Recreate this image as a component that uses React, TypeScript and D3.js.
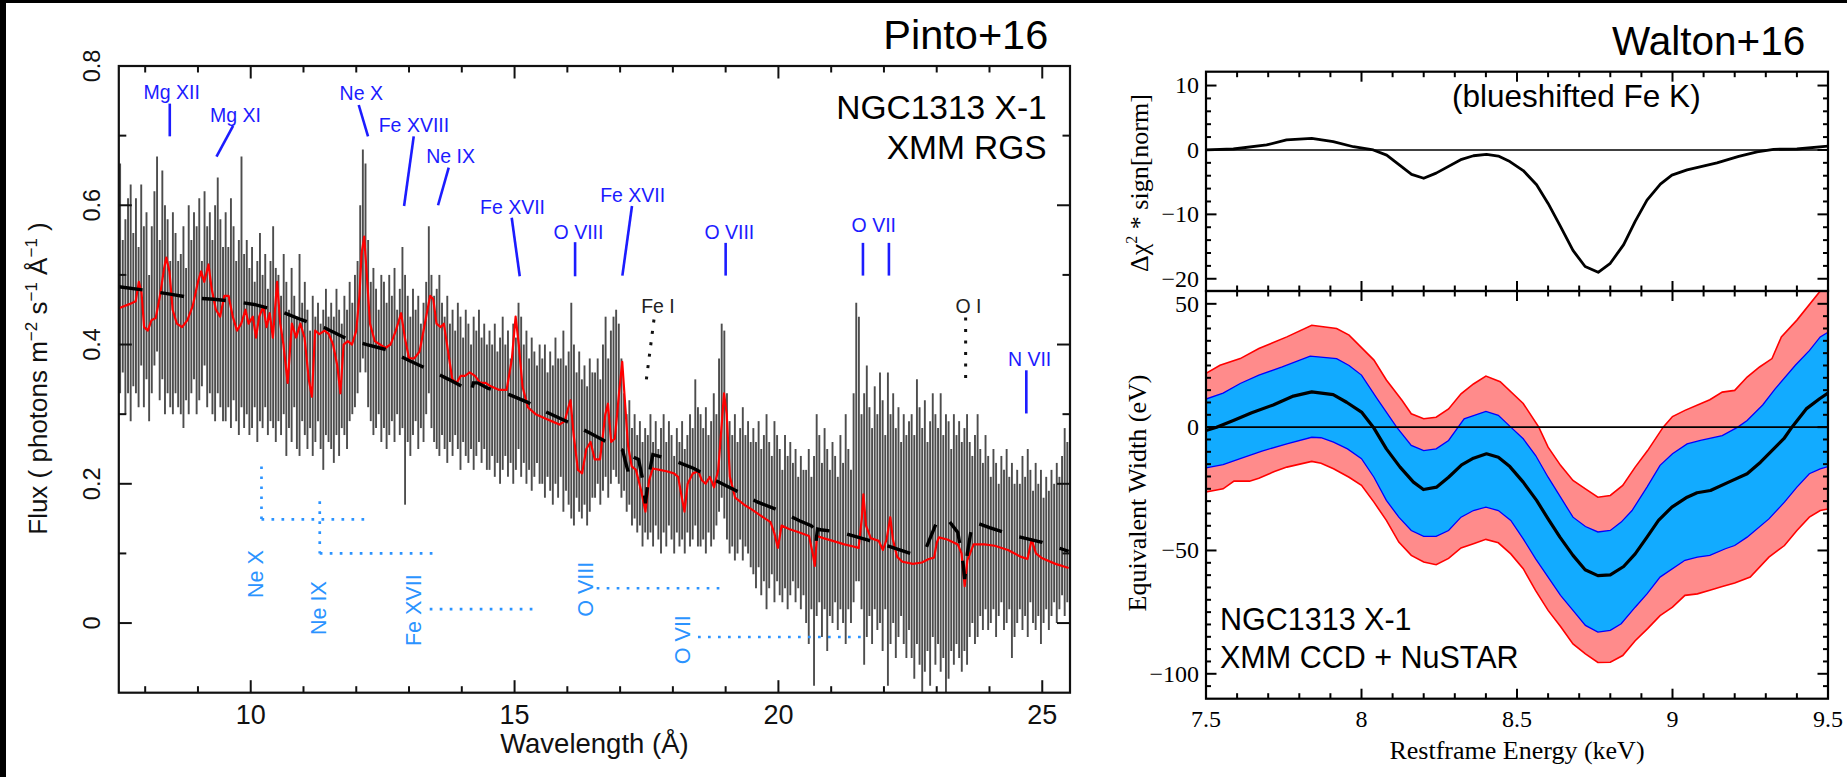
import React from "react";
import * as d3 from "d3";

const SANS = "'Liberation Sans', Arial, Helvetica, sans-serif";
const SERIF = "'Liberation Serif', 'Times New Roman', Times, serif";

// ---------------- Left panel (Pinto+16, XMM RGS) ----------------
const binStart = 7.5;
const binWidth = 0.05;
// upper / lower ends of each spectral bin's error bar (photons m^-2 s^-1 A^-1)
const fluxHi = [
  .66,.55,.58,.61,.63,.56,.61,.54,.63,.57,.59,.50,.57,.62,.67,.55,.65,.60,.58,.52,
  .59,.56,.52,.53,.57,.51,.60,.55,.59,.57,.61,.52,.62,.57,.59,.55,.60,.64,.58,.54,
  .59,.54,.61,.57,.52,.55,.67,.53,.55,.51,.54,.49,.52,.56,.50,.53,.48,.52,.57,.51,
  .50,.47,.53,.49,.45,.51,.47,.44,.53,.46,.49,.45,.42,.47,.44,.46,.43,.45,.48,.44,
  .46,.44,.48,.45,.43,.47,.45,.49,.46,.50,.52,.60,.68,.66,.55,.49,.51,.48,.45,.50,
  .49,.46,.50,.47,.51,.45,.48,.54,.50,.47,.44,.48,.45,.47,.43,.46,.49,.57,.50,.47,
  .48,.50,.46,.44,.47,.43,.45,.42,.46,.44,.41,.45,.43,.40,.44,.42,.45,.41,.43,.40,
  .42,.40,.43,.39,.41,.44,.40,.42,.38,.43,.41,.46,.44,.40,.42,.38,.41,.39,.37,.40,
  .38,.40,.36,.39,.37,.41,.38,.38,.42,.37,.39,.46,.40,.36,.39,.35,.37,.34,.38,.36,
  .36,.38,.35,.40,.44,.38,.42,.44,.45,.43,.38,.33,.30,.32,.28,.30,.27,.29,.26,.28,
  .27,.30,.26,.29,.25,.28,.30,.26,.29,.27,.24,.28,.26,.29,.25,.27,.30,.28,.35,.31,
  .30,.28,.31,.27,.29,.33,.30,.38,.43,.42,.33,.29,.27,.30,.26,.28,.31,.27,.29,.26,
  .28,.26,.29,.25,.27,.30,.26,.24,.29,.27,.25,.22,.27,.24,.26,.23,.25,.21,.24,.22,
  .22,.25,.21,.24,.30,.27,.23,.28,.25,.22,.26,.24,.21,.27,.23,.30,.25,.22,.33,.46,
  .44,.30,.33,.37,.31,.28,.34,.30,.36,.32,.27,.36,.30,.33,.28,.31,.26,.30,.27,.29,
  .30,.27,.35,.31,.28,.32,.26,.29,.33,.30,.28,.33,.27,.30,.29,.25,.30,.27,.29,.26,
  .28,.30,.26,.24,.27,.30,.25,.23,.27,.24,.21,.25,.23,.20,.24,.22,.25,.21,.23,.20,
  .22,.20,.24,.21,.25,.22,.19,.23,.20,.22,.18,.21,.19,.22,.20,.23,.21,.24,.28,.26,
];
const fluxLo = [
  .33,.36,.30,.33,.29,.34,.33,.31,.37,.31,.35,.29,.33,.37,.39,.32,.35,.30,.33,.31,
  .30,.33,.31,.30,.28,.32,.30,.33,.35,.30,.32,.34,.37,.31,.33,.30,.29,.33,.31,.29,
  .29,.31,.28,.32,.29,.27,.31,.28,.30,.27,.28,.31,.26,.29,.28,.31,.27,.29,.28,.26,
  .29,.27,.30,.24,.28,.26,.31,.25,.24,.29,.27,.25,.28,.24,.26,.29,.25,.22,.27,.26,
  .25,.23,.27,.24,.28,.27,.25,.29,.30,.31,.33,.36,.38,.36,.31,.29,.27,.28,.30,.26,
  .28,.25,.27,.29,.26,.30,.27,.28,.17,.26,.24,.27,.29,.25,.28,.26,.30,.33,.28,.26,
  .25,.24,.27,.25,.23,.26,.24,.27,.25,.22,.26,.24,.23,.25,.22,.24,.26,.23,.25,.22,
  .22,.24,.21,.23,.20,.22,.24,.21,.23,.20,.22,.25,.21,.23,.20,.22,.19,.21,.23,.20,
  .20,.18,.21,.19,.17,.20,.18,.21,.16,.19,.17,.15,.14,.18,.16,.15,.17,.14,.16,.18,
  .18,.20,.17,.19,.21,.18,.20,.22,.21,.20,.18,.19,.16,.17,.14,.15,.13,.14,.11,.13,
  .12,.13,.11,.14,.12,.10,.13,.11,.14,.12,.10,.13,.11,.12,.10,.13,.11,.12,.14,.11,
  .11,.12,.10,.13,.11,.12,.14,.16,.18,.15,.12,.10,.11,.09,.10,.12,.09,.11,.10,.08,
  .07,.05,.08,.04,.06,.02,.05,.07,.03,.06,.04,.03,.05,.02,.04,.06,.03,.05,.02,.04,
  .00,-.03,.02,-.09,.01,.03,-.02,.02,-.04,.01,.00,.03,-.01,.02,.00,-.03,.02,.00,.03,.06,
  .06,.02,-.06,-.02,.01,-.03,.02,-.01,.00,-.04,.02,-.09,-.03,.00,-.05,-.02,.01,-.03,-.05,-.01,
  -.05,-.08,-.03,-.06,-.10,-.07,-.04,-.09,-.02,-.06,-.03,-.07,-.05,-.10,-.08,-.04,-.06,-.03,-.05,-.07,
  -.04,-.06,-.02,.00,-.03,-.02,.01,-.01,.02,-.01,.00,.02,-.02,.01,.03,-.01,.00,.02,-.05,-.02,
  .00,.02,-.01,.01,-.02,.03,.00,-.01,.01,-.03,.00,.02,-.01,.01,.03,.00,.02,.04,.01,.03,
];
// best-fit model (red)
const rgsModel: [number, number][] = [
  [7.50,.452],[7.70,.458],[7.82,.462],[7.88,.49],[7.93,.475],[7.98,.425],[8.05,.42],[8.12,.435],
  [8.20,.438],[8.28,.47],[8.36,.51],[8.40,.525],[8.46,.505],[8.52,.45],[8.60,.43],[8.70,.425],
  [8.80,.435],[8.90,.455],[9.00,.49],[9.06,.505],[9.12,.49],[9.20,.515],[9.26,.48],[9.34,.45],
  [9.42,.44],[9.50,.47],[9.58,.47],[9.66,.44],[9.74,.42],[9.82,.43],[9.90,.45],[9.96,.43],
  [10.04,.44],[10.10,.41],[10.16,.44],[10.24,.455],[10.30,.425],[10.36,.445],[10.42,.41],[10.50,.49],
  [10.56,.43],[10.62,.40],[10.70,.345],[10.78,.43],[10.86,.41],[10.94,.43],[11.02,.41],[11.10,.35],
  [11.16,.325],[11.22,.42],[11.30,.415],[11.40,.42],[11.48,.415],[11.56,.40],[11.64,.37],[11.70,.33],
  [11.76,.40],[11.84,.405],[11.92,.40],[12.00,.42],[12.06,.47],[12.10,.53],[12.15,.555],[12.20,.50],
  [12.26,.43],[12.35,.405],[12.45,.40],[12.55,.395],[12.65,.40],[12.75,.42],[12.85,.445],[12.92,.41],
  [13.00,.38],[13.10,.38],[13.20,.39],[13.30,.43],[13.40,.47],[13.46,.465],[13.52,.43],[13.60,.425],
  [13.66,.43],[13.74,.39],[13.82,.35],[13.90,.345],[13.98,.355],[14.06,.355],[14.15,.36],[14.25,.355],
  [14.35,.345],[14.45,.345],[14.55,.34],[14.70,.335],[14.85,.335],[14.95,.38],[15.02,.44],[15.08,.40],
  [15.15,.34],[15.25,.31],[15.40,.30],[15.55,.295],[15.70,.29],[15.85,.285],[15.95,.29],[16.02,.31],
  [16.06,.32],[16.12,.27],[16.20,.22],[16.28,.215],[16.36,.25],[16.44,.26],[16.52,.235],[16.62,.235],
  [16.72,.30],[16.77,.315],[16.83,.26],[16.90,.265],[16.98,.33],[17.04,.375],[17.09,.32],[17.15,.255],
  [17.22,.225],[17.30,.22],[17.40,.19],[17.48,.16],[17.55,.205],[17.62,.222],[17.75,.22],[17.88,.218],
  [18.02,.215],[18.10,.21],[18.17,.18],[18.22,.16],[18.28,.20],[18.38,.215],[18.48,.218],[18.55,.205],
  [18.62,.20],[18.70,.21],[18.78,.195],[18.86,.22],[18.92,.28],[18.97,.33],[19.02,.30],[19.08,.21],
  [19.18,.18],[19.35,.17],[19.50,.163],[19.65,.155],[19.85,.145],[19.92,.13],[19.99,.108],[20.06,.14],
  [20.20,.135],[20.40,.13],[20.58,.125],[20.65,.10],[20.69,.082],[20.73,.125],[20.85,.122],[21.03,.118],
  [21.25,.113],[21.42,.11],[21.52,.108],[21.58,.15],[21.61,.185],[21.66,.14],[21.75,.122],[21.90,.118],
  [21.98,.105],[22.05,.12],[22.12,.152],[22.17,.12],[22.25,.095],[22.35,.088],[22.55,.085],[22.72,.087],
  [22.85,.092],[22.95,.094],[23.00,.115],[23.04,.123],[23.20,.12],[23.40,.113],[23.47,.10],[23.53,.053],
  [23.58,.09],[23.70,.113],[23.90,.113],[24.10,.111],[24.35,.105],[24.60,.095],[24.72,.092],[24.80,.12],
  [24.88,.10],[25.00,.093],[25.25,.085],[25.50,.079],
];
// continuum model (black dashed)
const continuumModel: [number, number][] = [
  [7.50,.483],[8.00,.478],[8.50,.472],[8.90,.467],[9.30,.465],[9.70,.462],[10.10,.457],[10.55,.448],
  [10.95,.436],[11.40,.424],[11.80,.409],[12.20,.400],[12.60,.392],[13.00,.377],[13.40,.363],[13.75,.35],
  [14.05,.338],[14.12,.33],[14.18,.332],[14.22,.345],[14.30,.345],[14.50,.337],[14.90,.328],[15.25,.317],
  [15.60,.303],[16.00,.289],[16.40,.274],[16.85,.256],[17.05,.248],[17.10,.232],[17.15,.218],[17.20,.24],
  [17.35,.235],[17.43,.205],[17.48,.172],[17.54,.21],[17.62,.242],[18.00,.234],[18.40,.222],[18.80,.205],
  [19.20,.19],[19.60,.174],[20.00,.162],[20.40,.147],[20.62,.14],[20.68,.135],[20.71,.115],[20.74,.135],
  [20.80,.134],[21.20,.13],[21.70,.119],[22.10,.11],[22.50,.10],[22.80,.108],[23.00,.145],[23.20,.15],
  [23.40,.13],[23.50,.085],[23.53,.063],[23.58,.10],[23.68,.146],[24.00,.137],[24.50,.125],[25.00,.116],
  [25.50,.103],
];
const xMajorL = [10, 15, 20, 25];
const yMajorL = [0, 0.2, 0.4, 0.6, 0.8];
const yLabelsL = ["0", "0.2", "0.4", "0.6", "0.8"];

// line identifications: label, label position (A, flux), marker segments
const idsUpper: { label: string; at: [number, number]; segs: [number, number][][] }[] = [
  { label: "Mg XII", at: [8.504, .752], segs: [[[8.466, .746], [8.466, .699]]] },
  { label: "Mg XI", at: [9.713, .719], segs: [[[9.666, .714], [9.351, .670]]] },
  { label: "Ne X", at: [12.095, .751], segs: [[[12.047, .744], [12.223, .699]]] },
  { label: "Fe XVIII", at: [13.093, .705], segs: [[[13.089, .699], [12.906, .599]]] },
  { label: "Ne IX", at: [13.788, .660], segs: [[[13.752, .654], [13.55, .600]]] },
  { label: "Fe XVII", at: [14.961, .587], segs: [[[14.946, .582], [15.098, .498]]] },
  { label: "O VIII", at: [16.212, .552], segs: [[[16.147, .547], [16.147, .498]]] },
  { label: "Fe XVII", at: [17.239, .604], segs: [[[17.225, .599], [17.043, .499]]] },
  { label: "O VIII", at: [19.07, .551], segs: [[[19.0, .546], [19.0, .499]]] },
  { label: "O VII", at: [21.808, .562], segs: [[[21.602, .546], [21.602, .499]], [[22.094, .546], [22.094, .499]]] },
  { label: "N VII", at: [24.76, .369], segs: [[[24.698, .363], [24.698, .301]]] },
];
const idsNeutral: { label: string; at: [number, number]; segs: [number, number][][] }[] = [
  { label: "Fe I", at: [17.718, .446], segs: [[[17.642, .436], [17.498, .35]]] },
  { label: "O I", at: [23.6, .446], segs: [[[23.548, .439], [23.548, .35]]] },
];
const idsShifted: { label: string; at: [number, number]; segs: [number, number][][] }[] = [
  { label: "Ne X", at: [10.228, .036], segs: [[[10.204, .225], [10.204, .149]], [[10.204, .149], [12.161, .149]]] },
  { label: "Ne IX", at: [11.422, -.017], segs: [[[11.308, .175], [11.308, .10]], [[11.308, .10], [13.487, .10]]] },
  { label: "Fe XVII", at: [13.231, -.033], segs: [[[13.392, .02], [15.4, .02]]] },
  { label: "O VIII", at: [16.48, .009], segs: [[[16.556, .05], [18.919, .05]]] },
  { label: "O VII", at: [18.318, -.059], segs: [[[18.476, -.02], [21.634, -.02]]] },
];

// ---------------- Right panel (Walton+16) ----------------
const chiCurve: [number, number][] = [
  [7.5,0],[7.588,.15],[7.695,.78],[7.759,1.55],[7.84,1.8],[7.909,1.3],[7.974,.5],[8.038,0],
  [8.081,-.8],[8.161,-3.8],[8.2,-4.4],[8.24,-3.6],[8.322,-1.45],[8.36,-.9],[8.402,-.7],[8.44,-.95],
  [8.477,-1.8],[8.52,-3.2],[8.563,-5.4],[8.6,-8.3],[8.638,-11.7],[8.68,-15.6],[8.719,-18.1],[8.761,-19.0],
  [8.8,-17.6],[8.843,-14.7],[8.88,-11.1],[8.918,-7.8],[8.961,-5.3],[8.998,-3.9],[9.047,-3.1],[9.143,-2.0],
  [9.213,-1.0],[9.272,-.3],[9.325,.1],[9.4,.15],[9.5,.6],
];
const ewBest: [number, number][] = [
  [7.5,-1.4],[7.534,0],[7.588,2.7],[7.647,5.8],[7.716,9.0],[7.781,12.6],[7.84,14.3],[7.909,13.2],
  [7.952,10.1],[8.0,6.1],[8.038,0],[8.08,-8.8],[8.124,-16.2],[8.167,-22.3],[8.199,-25.3],[8.242,-24.3],
  [8.28,-20.3],[8.322,-15.3],[8.36,-12.6],[8.402,-10.8],[8.44,-12.2],[8.477,-16],[8.52,-22.3],[8.563,-29.7],
  [8.6,-37.2],[8.638,-44.6],[8.68,-52],[8.719,-57.8],[8.76,-60.2],[8.8,-59.9],[8.843,-56.5],[8.88,-51.4],
  [8.918,-44.6],[8.955,-37.8],[8.998,-32.4],[9.047,-28.4],[9.079,-26.6],[9.122,-25.7],[9.186,-22],[9.24,-18.9],
  [9.283,-14.2],[9.358,-4.7],[9.384,0],[9.43,7.4],[9.473,11.5],[9.5,13.8],
];
const ew1Upper: [number, number][] = [
  [7.5,11.4],[7.555,13.8],[7.61,17.7],[7.67,21.1],[7.745,24.4],[7.835,28.8],[7.92,27.8],[7.96,25],
  [8.0,21.1],[8.05,11.6],[8.113,0],[8.16,-7.4],[8.2,-9.5],[8.24,-8.8],[8.28,-5.4],[8.33,3.4],
  [8.4,6.4],[8.44,4.8],[8.48,0],[8.52,-4.7],[8.56,-11.5],[8.6,-20.3],[8.64,-28.4],[8.68,-36.5],
  [8.72,-40.3],[8.76,-42.5],[8.8,-41.9],[8.835,-38.5],[8.87,-33.8],[8.918,-24.3],[8.96,-15.5],[9.0,-10.8],
  [9.047,-6.8],[9.09,-5.4],[9.16,-3.4],[9.21,0],[9.24,2.7],[9.29,9.0],[9.33,15.5],[9.395,25.1],
  [9.44,31],[9.475,36.6],[9.5,38.5],
];
const ew1Lower: [number, number][] = [
  [7.5,-16.5],[7.555,-15.2],[7.61,-12.8],[7.68,-9.7],[7.76,-6.8],[7.84,-4.1],[7.87,-4.3],[7.91,-6.1],
  [7.955,-8.8],[8.0,-12.8],[8.04,-20.3],[8.08,-29.7],[8.12,-36.5],[8.16,-41.9],[8.2,-44.3],[8.24,-44.3],
  [8.28,-41.9],[8.32,-36.5],[8.36,-33.8],[8.4,-32.4],[8.44,-33.8],[8.48,-37.8],[8.52,-45.3],[8.56,-53.4],
  [8.6,-60.8],[8.64,-68.2],[8.68,-74.3],[8.72,-80.4],[8.76,-83.1],[8.8,-82.4],[8.835,-79.7],[8.88,-73],
  [8.918,-67.6],[8.96,-60.8],[9.04,-54],[9.08,-52.7],[9.12,-52],[9.17,-49.3],[9.2,-48],[9.24,-44.6],
  [9.31,-37.2],[9.36,-30.4],[9.4,-24.3],[9.44,-18.9],[9.475,-16.9],[9.5,-16],
];
const ew2Upper: [number, number][] = [
  [7.5,21.8],[7.545,25.1],[7.61,27.8],[7.67,31.9],[7.76,36.6],[7.84,41.3],[7.92,40],[7.96,37.3],
  [8.04,27.2],[8.08,19.1],[8.13,10.9],[8.16,5.4],[8.2,3.4],[8.24,4.0],[8.28,7.4],[8.32,13.5],
  [8.36,17.5],[8.4,20.7],[8.446,18.4],[8.52,9.6],[8.57,0],[8.6,-8.1],[8.64,-15.5],[8.68,-21.6],
  [8.72,-25],[8.76,-28.4],[8.8,-27.7],[8.84,-23.6],[8.88,-16.2],[8.92,-9.5],[8.97,0],[9.0,4.3],
  [9.04,6.8],[9.09,9.5],[9.12,11.1],[9.16,14.2],[9.2,14.9],[9.24,20.3],[9.28,24.4],[9.32,27.8],
  [9.35,36.6],[9.4,43.4],[9.475,55.2],[9.5,60],
];
const ew2Lower: [number, number][] = [
  [7.5,-26.3],[7.555,-25],[7.59,-21.9],[7.64,-21.9],[7.67,-20.7],[7.72,-18],[7.76,-16.2],[7.84,-13.9],
  [7.87,-14.6],[7.91,-16.9],[7.96,-20.3],[8.0,-23.6],[8.04,-30.4],[8.08,-37.8],[8.12,-46.6],[8.16,-52],
  [8.2,-54.7],[8.24,-55.8],[8.28,-53.2],[8.32,-49],[8.36,-47.3],[8.4,-45.5],[8.44,-46.9],[8.48,-51.4],
  [8.52,-57.4],[8.56,-66.3],[8.6,-74.3],[8.64,-80.8],[8.68,-87.9],[8.72,-91.9],[8.76,-95.4],[8.8,-95.3],
  [8.84,-92.6],[8.88,-86.6],[8.92,-81.7],[8.96,-76.4],[9.0,-73],[9.04,-68.2],[9.08,-67.6],[9.12,-66.1],
  [9.16,-64.6],[9.2,-63.2],[9.25,-60.8],[9.31,-52.7],[9.36,-48],[9.4,-41.9],[9.44,-36.5],[9.475,-33.8],
  [9.5,-33.2],
];
const xLabelsR = ["7.5", "8", "8.5", "9", "9.5"];
const yTopLabels = [10, 0, -10, -20];
const yBotLabels = [50, 0, -50, -100];

const fmtMinus = (v: number) => (v < 0 ? "\u2212" + Math.abs(v) : String(v));

export default function App() {
  // ----- scales -----
  const xL = d3.scaleLinear().domain([7.5, 25.52]).range([118.8, 1069.7]);
  const yL = d3.scaleLinear().domain([-0.1, 0.8]).range([692.7, 66]);
  const xR = d3.scaleLinear().domain([7.5, 9.5]).range([1206, 1828]);
  const yT = d3.scaleLinear().domain([-21.9, 12.15]).range([291, 71.7]);
  const yB = d3.scaleLinear().domain([-110.1, 55.2]).range([698.7, 291]);

  const lineL = d3.line<[number, number]>().x((d) => xL(d[0])).y((d) => yL(d[1]));
  const lineT = d3.line<[number, number]>().x((d) => xR(d[0])).y((d) => yT(d[1]));
  const lineB = d3.line<[number, number]>().x((d) => xR(d[0])).y((d) => yB(d[1]));
  const band = (up: [number, number][], lo: [number, number][]) =>
    (lineB(up.concat(lo.slice().reverse())) || "") + "Z";

  const [lx0, lx1] = [xL.range()[0], 1070];
  const [ly1, ly0] = yL.range();
  const [rx0, rx1] = xR.range();
  const ty0 = yT.range()[1], ty1 = yT.range()[0];
  const by1 = yB.range()[0];

  const blue = "#1c1cff";
  const lightBlue = "#2b93ff";

  // ticks
  const xTicksL = d3.range(8, 26);
  const yTicksL = d3.range(0, 8).map((v) => v / 10);
  const xTicksR = d3.range(76, 95).map((v) => v / 10);
  const yTicksT = d3.range(-20, 12, 2);
  const yTicksB = d3.range(-105, 55, 5);

  return (
    <svg width={1847} height={777} style={{ position: "absolute", left: 0, top: 0, display: "block" }}
      xmlns="http://www.w3.org/2000/svg">
      <rect x={0} y={0} width={1847} height={777} fill="#fff" />
      <defs>
        <clipPath id="clipL"><rect x={lx0} y={ly0} width={lx1 - lx0} height={ly1 - ly0} /></clipPath>
        <clipPath id="clipT"><rect x={rx0} y={ty0} width={rx1 - rx0} height={ty1 - ty0} /></clipPath>
        <clipPath id="clipB"><rect x={rx0} y={ty1} width={rx1 - rx0} height={by1 - ty1} /></clipPath>
      </defs>

      {/* ================= LEFT PANEL ================= */}
      <g clipPath="url(#clipL)">
        {fluxHi.map((h, i) => {
          const lam = binStart + binWidth * (i + 0.5);
          return <line key={i} x1={xL(lam)} x2={xL(lam)} y1={yL(fluxLo[i])} y2={yL(h)} stroke="#4d4d4d" strokeWidth={1.9} />;
        })}
        <path d={lineL(rgsModel) || ""} fill="none" stroke="#ff0000" strokeWidth={2.2} strokeLinejoin="round" />
        <path d={lineL(continuumModel) || ""} fill="none" stroke="#000" strokeWidth={3.4} strokeDasharray="24 18" />
      </g>

      {/* upper ids */}
      {idsUpper.map((d, i) => (
        <g key={"u" + i}>
          <text x={xL(d.at[0])} y={yL(d.at[1])} textAnchor="middle" fontFamily={SANS} fontSize={19.5} fill={blue}>{d.label}</text>
          {d.segs.map((s, j) => (
            <line key={j} x1={xL(s[0][0])} y1={yL(s[0][1])} x2={xL(s[1][0])} y2={yL(s[1][1])} stroke={blue} strokeWidth={2.6} />
          ))}
        </g>
      ))}
      {idsNeutral.map((d, i) => (
        <g key={"n" + i}>
          <text x={xL(d.at[0])} y={yL(d.at[1])} textAnchor="middle" fontFamily={SANS} fontSize={19.5} fill="#222">{d.label}</text>
          {d.segs.map((s, j) => (
            <line key={j} x1={xL(s[0][0])} y1={yL(s[0][1])} x2={xL(s[1][0])} y2={yL(s[1][1])} stroke="#111" strokeWidth={3} strokeDasharray="3 8.5" />
          ))}
        </g>
      ))}
      {idsShifted.map((d, i) => (
        <g key={"s" + i}>
          <text transform={`translate(${xL(d.at[0])},${yL(d.at[1])}) rotate(-90)`} textAnchor="start" fontFamily={SANS} fontSize={21.5} fill={lightBlue}>{d.label}</text>
          {d.segs.map((s, j) => (
            <line key={j} x1={xL(s[0][0])} y1={yL(s[0][1])} x2={xL(s[1][0])} y2={yL(s[1][1])} stroke={lightBlue} strokeWidth={2.7} strokeDasharray="2.7 7.3" />
          ))}
        </g>
      ))}

      {/* frame + ticks */}
      <rect x={lx0} y={ly0} width={lx1 - lx0} height={ly1 - ly0} fill="none" stroke="#111" strokeWidth={2.2} />
      {xTicksL.map((v) => {
        const len = xMajorL.includes(v) ? 12.5 : 6.5;
        const x = xL(v);
        return (
          <g key={"xt" + v}>
            <line x1={x} x2={x} y1={ly1} y2={ly1 - len} stroke="#111" strokeWidth={2} />
            <line x1={x} x2={x} y1={ly0} y2={ly0 + len} stroke="#111" strokeWidth={2} />
          </g>
        );
      })}
      {yTicksL.map((v, i) => {
        const len = i % 2 === 0 ? 13 : 7.5;
        const y = yL(v);
        return (
          <g key={"yt" + i}>
            <line x1={lx0} x2={lx0 + len} y1={y} y2={y} stroke="#111" strokeWidth={2} />
            <line x1={lx1} x2={lx1 - len} y1={y} y2={y} stroke="#111" strokeWidth={2} />
          </g>
        );
      })}
      {xMajorL.map((v) => (
        <text key={"xl" + v} x={xL(v)} y={723.7} textAnchor="middle" fontFamily={SANS} fontSize={27} fill="#111">{v}</text>
      ))}
      {yMajorL.map((v, i) => (
        <text key={"yl" + i} transform={`translate(100,${yL(v)}) rotate(-90)`} textAnchor="middle" fontFamily={SANS} fontSize={23.5} fill="#111">{yLabelsL[i]}</text>
      ))}
      <text x={(lx0 + lx1) / 2} y={753} textAnchor="middle" fontFamily={SANS} fontSize={27.5} fill="#111">Wavelength (Å)</text>
      <text transform={`translate(46.5,378.5) rotate(-90)`} textAnchor="middle" fontFamily={SANS} fontSize={26} fill="#111">
        Flux ( photons m<tspan fontSize={17} dy={-10}>−2</tspan><tspan dy={10}> s</tspan><tspan fontSize={17} dy={-10}>−1</tspan><tspan dy={10}> Å</tspan><tspan fontSize={17} dy={-10}>−1</tspan><tspan dy={10}> )</tspan>
      </text>
      <text x={1046.7} y={119.3} textAnchor="end" fontFamily={SANS} fontSize={33.5} fill="#000">NGC1313 X-1</text>
      <text x={1046.7} y={159.3} textAnchor="end" fontFamily={SANS} fontSize={33.5} fill="#000">XMM RGS</text>
      <text x={1048.3} y={49.3} textAnchor="end" fontFamily={SANS} fontSize={41.5} fill="#000">Pinto+16</text>

      {/* ================= RIGHT PANEL ================= */}
      <text x={1805.3} y={55} textAnchor="end" fontFamily={SANS} fontSize={40.5} fill="#000">Walton+16</text>

      {/* top sub-panel */}
      <line x1={rx0} x2={rx1} y1={yT(0)} y2={yT(0)} stroke="#000" strokeWidth={1.6} />
      <g clipPath="url(#clipT)">
        <path d={lineT(chiCurve) || ""} fill="none" stroke="#000" strokeWidth={2.8} strokeLinejoin="round" />
      </g>
      <text x={1452} y={107.3} fontFamily={SANS} fontSize={31.5} fill="#000">(blueshifted Fe K)</text>

      {/* bottom sub-panel */}
      <g clipPath="url(#clipB)">
        <path d={band(ew2Upper, ew2Lower)} fill="#ff8b8b" stroke="none" />
        <path d={band(ew1Upper, ew1Lower)} fill="#12abff" stroke="none" />
        <path d={lineB(ew2Upper) || ""} fill="none" stroke="#ff0000" strokeWidth={1.6} />
        <path d={lineB(ew2Lower) || ""} fill="none" stroke="#ff0000" strokeWidth={1.6} />
        <path d={lineB(ew1Upper) || ""} fill="none" stroke="#0000ff" strokeWidth={1.3} />
        <path d={lineB(ew1Lower) || ""} fill="none" stroke="#0000ff" strokeWidth={1.3} />
        <line x1={rx0} x2={rx1} y1={yB(0)} y2={yB(0)} stroke="#000" strokeWidth={1.6} />
        <path d={lineB(ewBest) || ""} fill="none" stroke="#000" strokeWidth={3.2} strokeLinejoin="round" />
      </g>
      <text x={1220} y={630.3} fontFamily={SANS} fontSize={30.5} fill="#000">NGC1313 X-1</text>
      <text x={1220} y={668} fontFamily={SANS} fontSize={30.5} fill="#000">XMM CCD + NuSTAR</text>

      {/* frames */}
      <rect x={rx0} y={ty0} width={rx1 - rx0} height={ty1 - ty0} fill="none" stroke="#000" strokeWidth={2.2} />
      <rect x={rx0} y={ty1} width={rx1 - rx0} height={by1 - ty1} fill="none" stroke="#000" strokeWidth={2.2} />
      {xTicksR.map((v) => {
        const major = Math.abs(v * 2 - Math.round(v * 2)) < 1e-6;
        const len = major ? 10 : 5.5;
        const x = xR(v);
        return (
          <g key={"xr" + v}>
            <line x1={x} x2={x} y1={ty0} y2={ty0 + len} stroke="#000" strokeWidth={2} />
            <line x1={x} x2={x} y1={ty1} y2={ty1 - len} stroke="#000" strokeWidth={2} />
            <line x1={x} x2={x} y1={ty1} y2={ty1 + len} stroke="#000" strokeWidth={2} />
            <line x1={x} x2={x} y1={by1} y2={by1 - len} stroke="#000" strokeWidth={2} />
          </g>
        );
      })}
      {yTicksT.map((v) => {
        const len = v % 10 === 0 ? 10.5 : 5;
        const y = yT(v);
        return (
          <g key={"yT" + v}>
            <line x1={rx0} x2={rx0 + len} y1={y} y2={y} stroke="#000" strokeWidth={2} />
            <line x1={rx1} x2={rx1 - len} y1={y} y2={y} stroke="#000" strokeWidth={2} />
          </g>
        );
      })}
      {yTicksB.map((v) => {
        const len = v % 50 === 0 ? 10.5 : 5;
        const y = yB(v);
        return (
          <g key={"yB" + v}>
            <line x1={rx0} x2={rx0 + len} y1={y} y2={y} stroke="#000" strokeWidth={2} />
            <line x1={rx1} x2={rx1 - len} y1={y} y2={y} stroke="#000" strokeWidth={2} />
          </g>
        );
      })}
      {yTopLabels.map((v) => (
        <text key={"lt" + v} x={1199} y={yT(v)} dy="0.33em" textAnchor="end" fontFamily={SERIF} fontSize={24} fill="#000">{fmtMinus(v)}</text>
      ))}
      {yBotLabels.map((v) => (
        <text key={"lb" + v} x={1199} y={yB(v)} dy="0.33em" textAnchor="end" fontFamily={SERIF} fontSize={24} fill="#000">{fmtMinus(v)}</text>
      ))}
      {xLabelsR.map((s) => (
        <text key={"lx" + s} x={xR(+s)} y={727} textAnchor="middle" fontFamily={SERIF} fontSize={24} fill="#000">{s}</text>
      ))}
      <text x={xR(8.5)} y={758.7} textAnchor="middle" fontFamily={SERIF} fontSize={26} fill="#000">Restframe Energy (keV)</text>
      <text transform="translate(1148,183) rotate(-90)" textAnchor="middle" fontFamily={SERIF} fontSize={26} fill="#000">
        Δχ<tspan fontSize={16} dy={-11}>2</tspan><tspan dy={11}> * sign[norm]</tspan>
      </text>
      <text transform="translate(1146,493) rotate(-90)" textAnchor="middle" fontFamily={SERIF} fontSize={26} fill="#000">Equivalent Width (eV)</text>

      {/* slide border */}
      <rect x={0} y={0} width={1847} height={3} fill="#000" />
      <rect x={0} y={0} width={6} height={777} fill="#000" />
    </svg>
  );
}
